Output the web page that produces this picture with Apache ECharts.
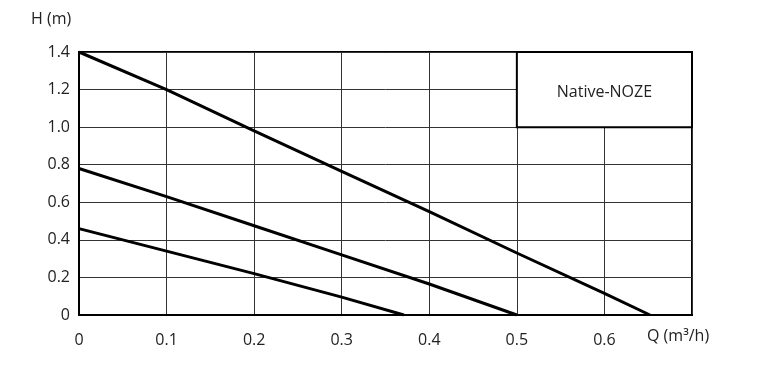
<!DOCTYPE html>
<html>
<head>
<meta charset="utf-8">
<script src="https://cdn.jsdelivr.net/npm/echarts@6/dist/echarts.min.js"></script>
<style>html,body{margin:0;padding:0;background:#fff}#c{width:757px;height:391px}</style>
</head>
<body>
<div id="c"></div>
<script>
var xTicks = [0, 0.1, 0.2, 0.3, 0.4, 0.5, 0.6];
var yTicks = [0, 0.2, 0.4, 0.6, 0.8, 1.0, 1.2, 1.4];
var curveMax = [[0, 1.4], [0.1, 1.2], [0.2, 0.98], [0.3, 0.765], [0.4, 0.55], [0.5, 0.33], [0.6, 0.115], [0.652, 0]];
var curveMid = [[0, 0.78], [0.1, 0.63], [0.2, 0.475], [0.3, 0.32], [0.4, 0.165], [0.5, 0]];
var curveMin = [[0, 0.46], [0.1, 0.34], [0.2, 0.22], [0.3, 0.095], [0.371, 0]];
var boxLabel = 'Native-NOZE';
var xName = 'Q (m³/h)';
var yName = 'H (m)';

var font = '"Open Sans", "Noto Sans", sans-serif';
var chart = echarts.init(document.getElementById('c'), null, {renderer: 'canvas'});
function line(d) {
  return {type: 'line', data: d, symbol: 'none', lineStyle: {color: '#000', width: 3}, z: 3, silent: true};
}
var s1 = line(curveMax);
s1.markArea = {
  silent: true,
  itemStyle: {color: '#fff', borderColor: '#000', borderWidth: 2},
  label: {show: true, position: 'inside', offset: [0, 3], color: '#222', fontSize: 16, fontFamily: font},
  data: [[{name: boxLabel, coord: [0.5, 1.4]}, {coord: [0.7, 1.0]}]]
};
chart.setOption({
  animation: false,
  grid: {left: 79, right: 65, top: 52, bottom: 76, show: true, borderColor: '#000', borderWidth: 2, backgroundColor: 'transparent'},
  xAxis: {
    type: 'value', min: 0, max: 0.7, interval: 0.1,
    axisLine: {show: true, lineStyle: {color: '#000', width: 2}},
    axisTick: {show: false},
    splitLine: {show: true, lineStyle: {color: '#333', width: 1}},
    axisLabel: {
      margin: 17, color: '#222', fontSize: 16, fontFamily: font,
      formatter: function (v) {
        var r = Math.round(v * 10) / 10;
        return xTicks.indexOf(r) >= 0 ? (r === 0 ? '0' : r.toFixed(1)) : '';
      }
    }
  },
  yAxis: {
    type: 'value', min: 0, max: 1.4, interval: 0.2,
    axisLine: {show: true, lineStyle: {color: '#000', width: 2}},
    axisTick: {show: false},
    splitLine: {show: true, lineStyle: {color: '#333', width: 1}},
    axisLabel: {
      margin: 9, color: '#222', fontSize: 16, fontFamily: font, padding: [3, 0, 0, 0],
      formatter: function (v) {
        var r = Math.round(v * 10) / 10;
        return yTicks.indexOf(r) >= 0 ? (r === 0 ? '0' : r.toFixed(1)) : '';
      }
    }
  },
  graphic: [
    {type: 'text', left: 31, top: 11, style: {text: yName, fill: '#222', font: '16px ' + font}},
    {type: 'text', left: 647, top: 328, style: {text: xName, fill: '#222', font: '16px ' + font}}
  ],
  series: [s1, line(curveMid), line(curveMin)]
});
</script>
</body>
</html>
